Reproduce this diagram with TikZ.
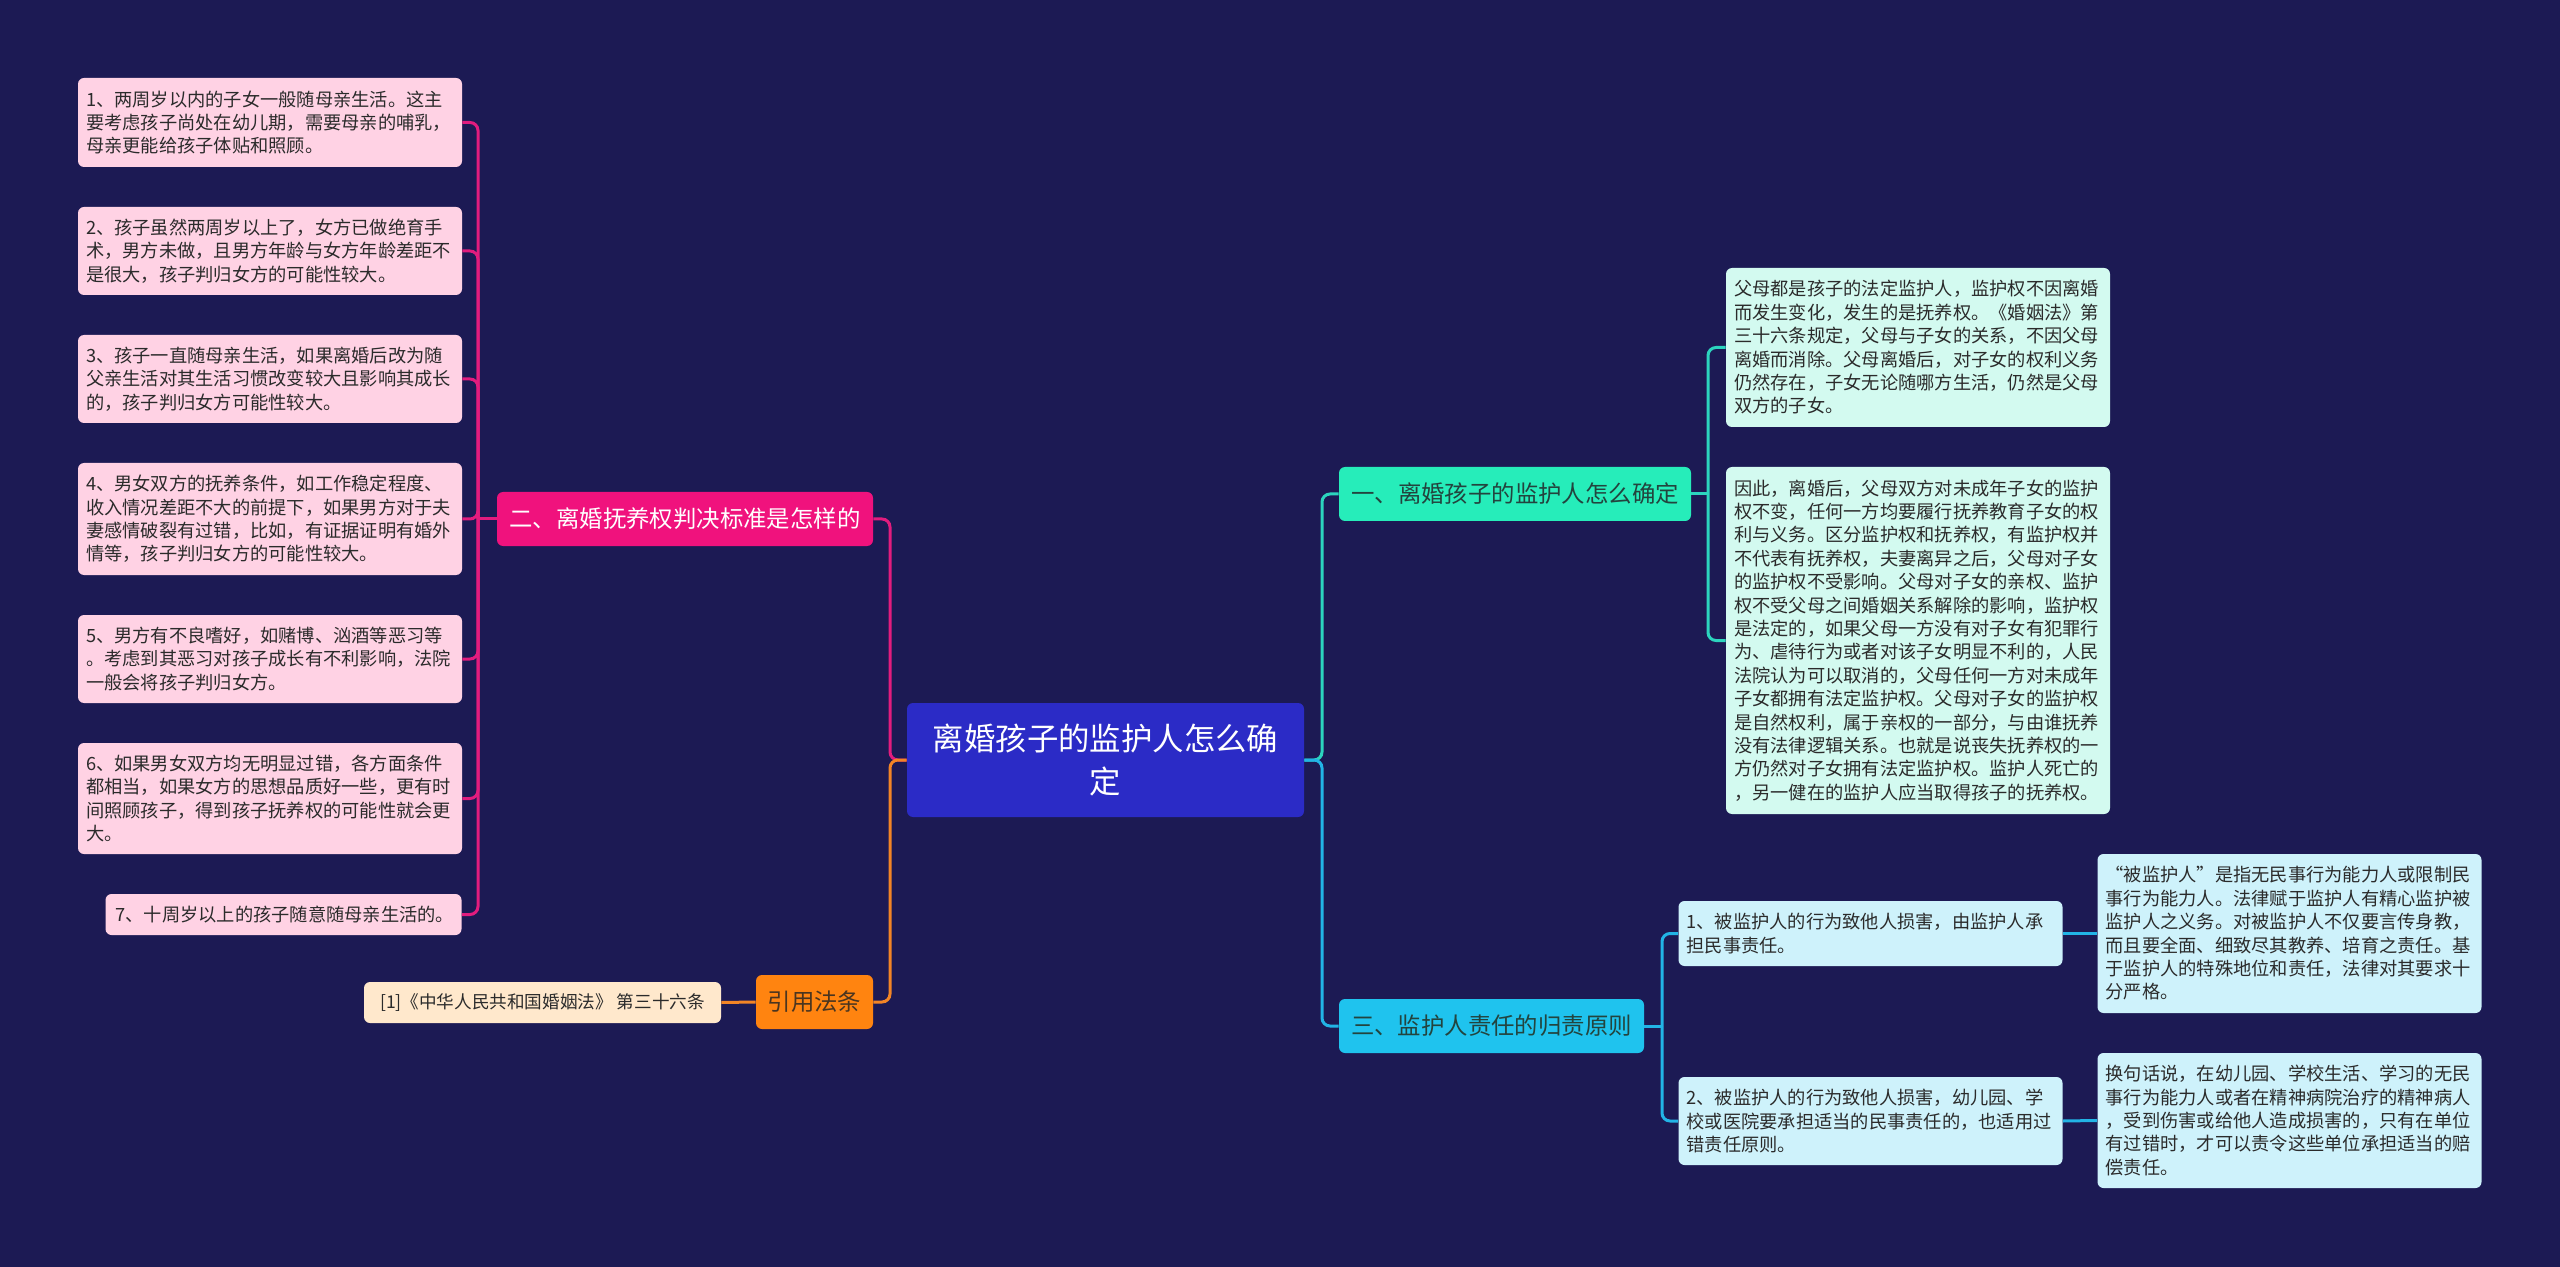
\documentclass[tikz,border=0pt]{standalone}
\usepackage{fontspec}
\newfontfamily\cjk{Noto Sans CJK SC}
\definecolor{bg}{HTML}{1C1A54}
\definecolor{rootfill}{HTML}{2B2BC6}
\definecolor{erfill}{HTML}{F0127D}
\definecolor{pinkln}{HTML}{E21C7E}
\definecolor{pinkleaf}{HTML}{FFD2E4}
\definecolor{onefill}{HTML}{26EDBA}
\definecolor{tealln}{HTML}{2CD4BE}
\definecolor{mintleaf}{HTML}{D3FAF0}
\definecolor{threefill}{HTML}{1FC3EE}
\definecolor{cyanln}{HTML}{22B4E6}
\definecolor{cyanleaf}{HTML}{CEF2FB}
\definecolor{lawfill}{HTML}{FF8410}
\definecolor{orgln}{HTML}{F28526}
\definecolor{citefill}{HTML}{FFE8CC}
\definecolor{txt}{HTML}{2B2B2B}
\definecolor{tealtxt}{HTML}{23443E}
\definecolor{lawtxt}{HTML}{4A3520}
\begin{document}
\begin{tikzpicture}[x=0.5pt,y=-0.5pt,
  leaf/.style={rounded corners=3pt, inner xsep=4pt, inner ysep=0pt, text width=184pt, align=left,
    font=\cjk\fontsize{9.125pt}{11.7pt}\selectfont, text=txt, minimum height=#1*0.5pt},
  shortleaf/.style={rounded corners=3pt, inner xsep=5pt, inner ysep=0pt, text width=168pt, align=left,
    font=\cjk\fontsize{9.125pt}{11.7pt}\selectfont, text=txt, minimum height=20.5pt},
  citeleaf/.style={rounded corners=3pt, inner xsep=0pt, inner ysep=0pt, minimum width=178.5pt,
    font=\cjk\fontsize{8.8pt}{11pt}\selectfont, text=txt, minimum height=20.5pt},
  mainnode/.style={rounded corners=3pt, inner sep=0pt, minimum height=27pt, minimum width=#1*0.5pt,
    font=\cjk\fontsize{11.7pt}{14pt}\selectfont},
  conn/.style={line width=1.5pt, rounded corners=4pt},
  pinkc/.style={conn, draw=pinkln},
  orgc/.style={conn, draw=orgln},
  tealc/.style={conn, draw=tealln},
  cyanc/.style={conn, draw=cyanln}
]
\useasboundingbox (0,0) rectangle (2560,1267);
\fill[bg] (0,0) rectangle (2560,1267);

% root
\node[rounded corners=3pt, fill=rootfill, inner sep=0pt, minimum width=198.5pt, minimum height=57pt,
  text width=180pt, align=center, text=white, font=\cjk\fontsize{15.7pt}{21.5pt}\selectfont]
  (root) at (1105.5,760) {离婚孩子的监护人怎么确\\定};

% main branches
\node[mainnode=376, fill=erfill, text=white] (er) at (685,519) {二、离婚抚养权判决标准是怎样的};
\node[mainnode=117, fill=lawfill, text=lawtxt] (law) at (814.5,1002) {引用法条};
\node[mainnode=352, fill=onefill, text=tealtxt] (one) at (1515,494) {一、离婚孩子的监护人怎么确定};
\node[mainnode=305, fill=threefill, text=tealtxt] (three) at (1491.5,1026) {三、监护人责任的归责原则};

% left leaves
\node[leaf=89, fill=pinkleaf] (c1) at (270,122.5) {1、两周岁以内的子女一般随母亲生活。这主\\要考虑孩子尚处在幼儿期，需要母亲的哺乳，\\母亲更能给孩子体贴和照顾。};
\node[leaf=88, fill=pinkleaf] (c2) at (270,251) {2、孩子虽然两周岁以上了，女方已做绝育手\\术，男方未做，且男方年龄与女方年龄差距不\\是很大，孩子判归女方的可能性较大。};
\node[leaf=88, fill=pinkleaf] (c3) at (270,379) {3、孩子一直随母亲生活，如果离婚后改为随\\父亲生活对其生活习惯改变较大且影响其成长\\的，孩子判归女方可能性较大。};
\node[leaf=112, fill=pinkleaf] (c4) at (270,519) {4、男女双方的抚养条件，如工作稳定程度、\\收入情况差距不大的前提下，如果男方对于夫\\妻感情破裂有过错，比如，有证据证明有婚外\\情等，孩子判归女方的可能性较大。};
\node[leaf=88, fill=pinkleaf] (c5) at (270,659) {5、男方有不良嗜好，如赌博、汹酒等恶习等\\。考虑到其恶习对孩子成长有不利影响，法院\\一般会将孩子判归女方。};
\node[leaf=111, fill=pinkleaf] (c6) at (270,798.5) {6、如果男女双方均无明显过错，各方面条件\\都相当，如果女方的思想品质好一些，更有时\\间照顾孩子，得到孩子抚养权的可能性就会更\\大。};
\node[shortleaf, fill=pinkleaf] (c7) at (283.5,914.5) {7、十周岁以上的孩子随意随母亲生活的。};
\node[citeleaf, fill=citefill] (cite) at (542.5,1002.5) {[1]《中华人民共和国婚姻法》~第三十六条};

% right leaves
\node[leaf=159, fill=mintleaf] (A) at (1918,347.5) {父母都是孩子的法定监护人，监护权不因离婚\\而发生变化，发生的是抚养权。《婚姻法》第\\三十六条规定，父母与子女的关系，不因父母\\离婚而消除。父母离婚后，对子女的权利义务\\仍然存在，子女无论随哪方生活，仍然是父母\\双方的子女。};
\node[leaf=347, fill=mintleaf] (B) at (1918,640.5) {因此，离婚后，父母双方对未成年子女的监护\\权不变，任何一方均要履行抚养教育子女的权\\利与义务。区分监护权和抚养权，有监护权并\\不代表有抚养权，夫妻离异之后，父母对子女\\的监护权不受影响。父母对子女的亲权、监护\\权不受父母之间婚姻关系解除的影响，监护权\\是法定的，如果父母一方没有对子女有犯罪行\\为、虐待行为或者对该子女明显不利的，人民\\法院认为可以取消的，父母任何一方对未成年\\子女都拥有法定监护权。父母对子女的监护权\\是自然权利，属于亲权的一部分，与由谁抚养\\没有法律逻辑关系。也就是说丧失抚养权的一\\方仍然对子女拥有法定监护权。监护人死亡的\\，另一健在的监护人应当取得孩子的抚养权。};
\node[leaf=65, fill=cyanleaf] (C) at (1870.5,933.5) {1、被监护人的行为致他人损害，由监护人承\\担民事责任。};
\node[leaf=88, fill=cyanleaf] (D) at (1870.5,1121) {2、被监护人的行为致他人损害，幼儿园、学\\校或医院要承担适当的民事责任的，也适用过\\错责任原则。};
\node[leaf=159, fill=cyanleaf] (E) at (2289.5,933.5) {“被监护人”是指无民事行为能力人或限制民\\事行为能力人。法律赋于监护人有精心监护被\\监护人之义务。对被监护人不仅要言传身教，\\而且要全面、细致尽其教养、培育之责任。基\\于监护人的特殊地位和责任，法律对其要求十\\分严格。};
\node[leaf=135, fill=cyanleaf] (F) at (2289.5,1120.5) {换句话说，在幼儿园、学校生活、学习的无民\\事行为能力人或者在精神病院治疗的精神病人\\，受到伤害或给他人造成损害的，只有在单位\\有过错时，才可以责令这些单位承担适当的赔\\偿责任。};

% junctions
\coordinate (jL) at (478,519);
\coordinate (jRL) at (890,760);
\coordinate (jRR) at (1322,760);
\coordinate (j1) at (1708,494);
\coordinate (j3) at (1662,1026);

% connectors: root level
\draw[pinkc] (er.east) -| (jRL) -- (root.west);
\draw[orgc] (law.east) -| (jRL) -- (root.west);
\draw[tealc] (root.east) -- (jRR) |- (one.west);
\draw[cyanc] (root.east) -- (jRR) |- (three.west);

% left pink
\foreach \n in {c1,c2,c3,c4,c5,c6,c7} { \draw[pinkc] (\n.east) -| (jL); }
\draw[pinkc] (er.west) -- (jL);
\draw[orgc] (law.west) -- (cite.east);

% right
\draw[tealc] (A.west) -| (j1);
\draw[tealc] (B.west) -| (j1);
\draw[tealc] (one.east) -- (j1);
\draw[cyanc] (C.west) -| (j3);
\draw[cyanc] (D.west) -| (j3);
\draw[cyanc] (three.east) -- (j3);
\draw[cyanc] (C.east) -- (E.west);
\draw[cyanc] (D.east) -- (F.west);
\end{tikzpicture}
\end{document}
